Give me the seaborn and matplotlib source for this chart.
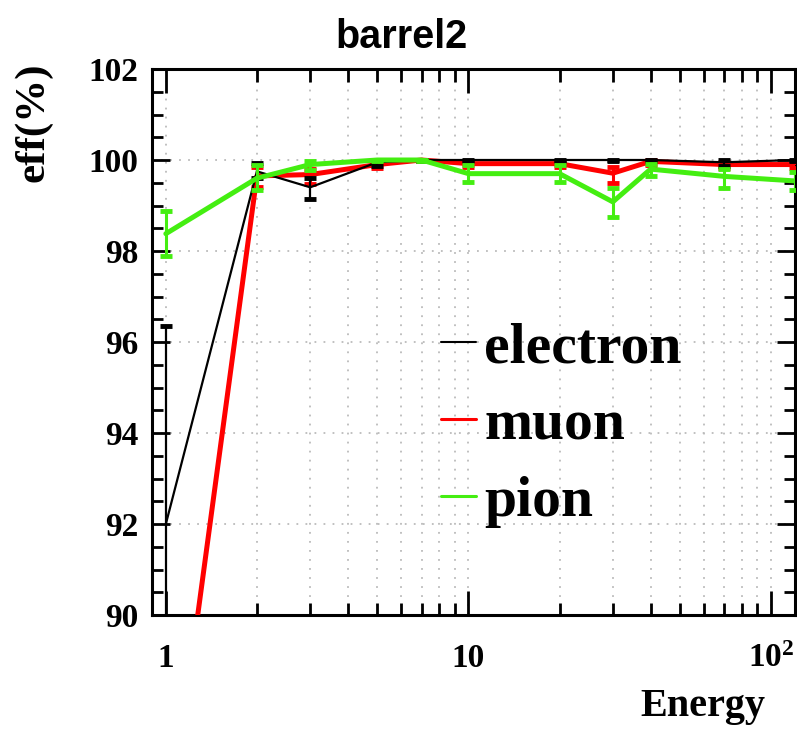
import numpy as np
import pandas as pd
import matplotlib
matplotlib.use("Agg")
import matplotlib.pyplot as plt
import seaborn as sns
from matplotlib.ticker import MultipleLocator, LogLocator, FixedLocator, NullFormatter, FixedFormatter

# ---------------- data ----------------
energy = [1, 2, 3, 5, 7, 10, 20, 30, 40, 70, 120]

electron = [92.0, 99.75, 99.40, 99.95, 100.0, 100.0, 100.0, 100.0, 100.0, 99.95, 100.0]
electron_lo = [5.0, 0.15, 0.26, 0.08, 0.02, 0.03, 0.03, 0.03, 0.03, 0.08, 0.03]
electron_hi = [4.35, 0.18, 0.20, 0.04, 0.0, 0.0, 0.0, 0.0, 0.0, 0.04, 0.0]

muon = [84.8, 99.65, 99.68, 99.90, 100.0, 99.92, 99.92, 99.71, 99.97, 99.90, 99.90]
muon_lo = [3.0, 0.25, 0.20, 0.07, 0.02, 0.07, 0.07, 0.22, 0.07, 0.07, 0.07]
muon_hi = [3.0, 0.20, 0.12, 0.05, 0.0, 0.05, 0.05, 0.14, 0.03, 0.05, 0.05]

pion = [98.38, 99.60, 99.90, 100.0, 100.0, 99.70, 99.70, 99.08, 99.80, 99.64, 99.54]
pion_lo = [0.50, 0.25, 0.12, 0.03, 0.02, 0.18, 0.18, 0.33, 0.15, 0.25, 0.20]
pion_hi = [0.50, 0.30, 0.08, 0.0, 0.0, 0.18, 0.18, 0.30, 0.12, 0.16, 0.20]

y_ticks = [90, 92, 94, 96, 98, 100, 102]
x_ticks = [1, 10, 100]
x_ticklabels = ["1", "10", r"$\mathbf{10^{2}}$"]

# ---------------- style ----------------
sns.set_style("white")
plt.rcParams["font.family"] = ["Liberation Serif", "DejaVu Serif"]
plt.rcParams["font.weight"] = "bold"
plt.rcParams["mathtext.fontset"] = "custom"
plt.rcParams["mathtext.bf"] = "Liberation Serif:bold"
plt.rcParams["mathtext.rm"] = "Liberation Serif:bold"
for k in ["text.color", "axes.labelcolor", "xtick.color", "ytick.color", "axes.edgecolor"]:
    plt.rcParams[k] = "black"

fig = plt.figure(figsize=(7.97, 7.29), dpi=100)
ax = fig.add_axes([152 / 797, 1 - 615 / 729, (795 - 152) / 797, (615 - 69) / 729])

df = pd.DataFrame({
    "energy": energy * 3,
    "eff": electron + muon + pion,
    "particle": ["electron"] * 11 + ["muon"] * 11 + ["pion"] * 11,
})

colors = {"electron": "black", "muon": "#ff0000", "pion": "#44ee11"}
widths = {"electron": 1.6, "muon": 3.6, "pion": 3.6}
errs = {"electron": (electron_lo, electron_hi),
        "muon": (muon_lo, muon_hi),
        "pion": (pion_lo, pion_hi)}
zorders = {"muon": 3, "electron": 4, "pion": 5}

for name in ["muon", "electron", "pion"]:
    sub = df[df.particle == name]
    sns.lineplot(data=sub, x="energy", y="eff", color=colors[name],
                 linewidth=widths[name], ax=ax, label=name, estimator=None,
                 zorder=zorders[name])
    lo, hi = errs[name]
    ax.errorbar(sub["energy"], sub["eff"], yerr=[lo, hi], fmt="none",
                ecolor=colors[name], elinewidth=1.6 if name == "electron" else 2.2,
                capsize=4, capthick=3.5, zorder=zorders[name])

ax.set_xscale("log")
ax.set_xlim(0.9, 120)
ax.set_ylim(90, 102)

# ticks
ax.xaxis.set_major_locator(FixedLocator(x_ticks))
ax.xaxis.set_major_formatter(FixedFormatter(x_ticklabels))
ax.xaxis.set_minor_locator(LogLocator(base=10, subs=np.arange(2, 10)))
ax.xaxis.set_minor_formatter(NullFormatter())
ax.yaxis.set_major_locator(FixedLocator(y_ticks))
ax.yaxis.set_minor_locator(MultipleLocator(0.5))

ax.tick_params(which="both", direction="in", top=True, right=True,
               bottom=True, left=True, width=2, color="black",
               labelcolor="black")
ax.tick_params(axis="x", which="major", length=17, pad=20, labelsize=24)
ax.tick_params(axis="x", which="minor", length=9)
ax.tick_params(axis="y", which="major", length=13, pad=10, labelsize=24)
ax.tick_params(axis="y", which="minor", length=8)
for lab in ax.get_xticklabels() + ax.get_yticklabels():
    lab.set_fontweight("bold")
    lab.set_family("Liberation Serif")

for s in ax.spines.values():
    s.set_linewidth(2.2)
    s.set_color("black")

ax.grid(which="both", axis="x", color="#bbbbbb", linestyle=(0, (1, 4)), linewidth=1.3)
ax.grid(which="major", axis="y", color="#bbbbbb", linestyle=(0, (1, 4)), linewidth=1.3)
ax.set_axisbelow(True)
ax.set_xlabel("")
ax.set_ylabel("")

# legend
handles, labels = ax.get_legend_handles_labels()
order = [labels.index(n) for n in ["electron", "muon", "pion"]]
leg = ax.legend([handles[i] for i in order], [labels[i] for i in order],
                loc="center left", bbox_to_anchor=(441 / 797, 1 - 425 / 729),
                bbox_transform=fig.transFigure, frameon=False,
                prop={"family": "Liberation Serif", "weight": "bold", "size": 41.5},
                handlelength=0.6, handletextpad=0.15, labelspacing=0.42,
                borderpad=0, borderaxespad=0)
for t in leg.get_texts():
    t.set_color("black")
for h, w in zip(leg.get_lines(), [1.5, 2.2, 2.2]):
    h.set_linewidth(w)

# texts
fig.text(402 / 797, 1 - 48 / 729, "barrel2", ha="center", va="baseline",
         family="Liberation Sans", weight="bold", size=28.5, color="black")
fig.text(33 / 797, 1 - 63 / 729, "eff(%)", rotation=90, ha="center", va="top",
         family="Liberation Serif", weight="bold", size=31, color="black")
fig.text(765 / 797, 1 - 716 / 729, "Energy", ha="right", va="baseline",
         family="Liberation Serif", weight="bold", size=29, color="black")

fig.savefig("out.png", dpi=100)
